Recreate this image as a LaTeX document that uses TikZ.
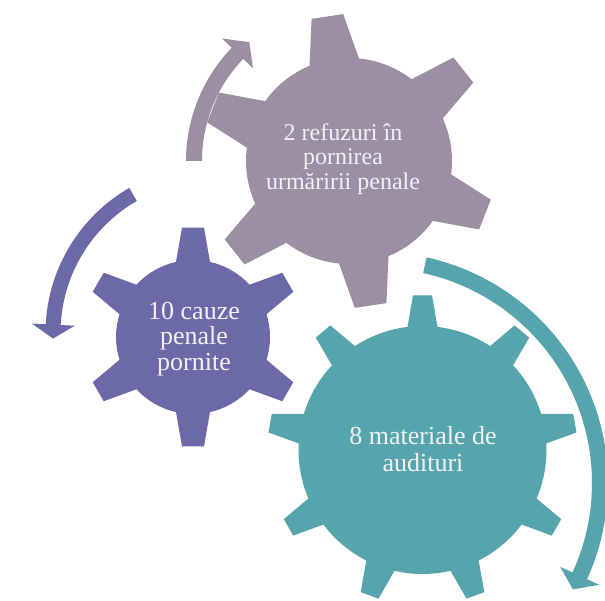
\documentclass[tikz,border=0pt]{standalone}
\usepackage{fontspec}
\setmainfont{Liberation Serif}
\definecolor{tealg}{RGB}{86,164,172}
\definecolor{mauveg}{RGB}{154,143,163}
\definecolor{purpg}{RGB}{108,105,168}
\definecolor{txtc}{RGB}{242,242,246}
% gear: #1 colour, #2 centre, #3 R, #4 inner r, #5 teeth, #6 first angle, #7 tip half width, #8 base half width
\newcommand{\mygear}[8]{%
  \pgfmathsetmacro\gdt{asin(#7/#3)}%
  \pgfmathsetmacro\gdb{asin(#8/#4)}%
  \pgfmathsetmacro\gstp{360/#5}%
  \fill[#1, shift={#2}] ({#6-\gdb}:#4)
    \foreach \k in {1,...,#5} {
      -- ({#6+(\k-1)*\gstp-\gdt}:#3) -- ({#6+(\k-1)*\gstp+\gdt}:#3)
      -- ({#6+(\k-1)*\gstp+\gdb}:#4)
      arc[start angle={#6+(\k-1)*\gstp+\gdb}, end angle={#6+\k*\gstp-\gdb}, radius=#4]
    } -- cycle;}
% circular arrow: #1 colour, #2 centre, #3 r, #4 half thickness, #5 tail angle, #6 head base angle, #7 tip angle, #8 head half width
\newcommand{\mycircarrow}[8]{%
  \fill[#1, shift={#2}] ({#5}:{#3+#4}) arc[start angle={#5}, end angle={#6}, radius={#3+#4}]
    -- ({#6}:{#3+#8}) -- ({#7}:{#3}) -- ({#6}:{#3-#8}) -- ({#6}:{#3-#4})
    arc[start angle={#6}, end angle={#5}, radius={#3-#4}] -- cycle;}
\tikzset{geartext/.style={text=txtc, align=center, inner sep=0pt}}
\begin{document}
\begin{tikzpicture}[x=1pt,y=1pt]
\useasboundingbox (0,0) rectangle (605,600);
\clip (0,0) rectangle (605,600);
\fill[white] (0,0) rectangle (605,600);
% arrows
\mycircarrow{tealg}{(377,117)}{223}{8}{77.6}{-24.6}{-28.5}{21.5}
\mycircarrow{mauveg}{(349,439)}{155}{8}{180}{136}{130}{21.5}
\mycircarrow{purpg}{(213,267)}{160}{7.5}{120}{177}{182}{21.5}
% gears
\mygear{mauveg}{(349,439)}{147}{103}{6}{98.5}{16}{25}
\mygear{purpg}{(193,263)}{110}{77}{6}{90}{11}{17}
\mygear{tealg}{(422.5,150)}{155}{124}{9}{90}{9.5}{15}
% texts
\node[geartext, font=\fontsize{24}{24.5}\selectfont] (tmauve) at (343,441) {2 refuzuri în\\pornirea\\urmăririi penale};
\node[geartext, font=\fontsize{26}{25.5}\selectfont] (tpurp) at (194,261) {10 cauze\\penale\\pornite};
\node[geartext, font=\fontsize{26}{27}\selectfont] (tteal) at (423,151) {8 materiale de\\audituri};
\end{tikzpicture}
\end{document}
